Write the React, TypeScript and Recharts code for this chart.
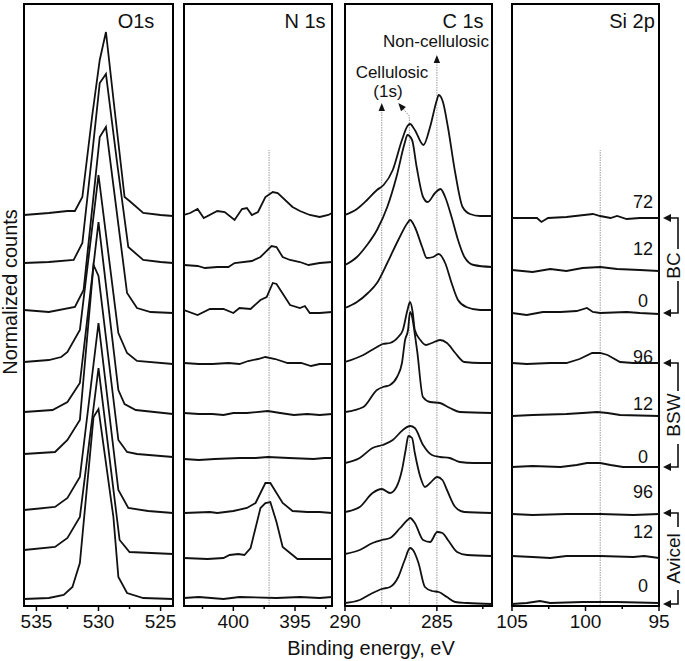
import React from 'react';
import { LineChart, Line, XAxis, YAxis, ReferenceLine, ReferenceArea } from 'recharts';

type Pt = [number, number];

// ---------- O1s (binding energy eV, normalized counts above baseline) ----------
const O1S_BC72: Pt[] = [[536,0],[534,2],[532.5,4],[531.9,4],[531.3,18],[530.5,100],[529.9,155],[529.4,183],[528.7,105],[527.9,18],[527.5,14],[526.4,2],[525,0],[524,-1]];
const O1S_BC12: Pt[] = [[536,0],[534,1],[532,3],[531.3,20],[530.5,110],[529.9,180],[529.4,189],[528.5,100],[527.6,16],[526.4,3],[525,1],[524,0]];
const O1S_BC0: Pt[] = [[536,0],[534,-2],[531.9,3],[531.2,20],[529.9,173],[529.4,183],[527.7,17],[526.9,2],[525.8,-2],[524,-3]];
const O1S_BSW96: Pt[] = [[536,0],[534,2],[533,5],[532.5,10],[531.5,32],[530,187],[528.4,29],[527.7,9],[526.9,1],[524,-2]];
const O1S_BSW12: Pt[] = [[536,0],[533.7,2],[532.5,10],[531.5,29],[530,190],[528.4,22],[527.9,8],[527,2],[524,-2]];
const O1S_BSW0: Pt[] = [[536,0],[533.5,2],[532.5,14],[531.5,34],[530.4,189],[530,178],[528.4,14],[527.7,2],[526.9,0],[524,-3]];
const O1S_AV96: Pt[] = [[536,0],[533.5,3],[532.5,12],[531.5,33],[530,187],[528.4,20],[527.6,2],[526,-1],[524,-3]];
const O1S_AV12: Pt[] = [[536,0],[533.5,3],[532.5,12],[531.5,33],[530,182],[528.3,10],[527.5,-2],[524,-4]];
const O1S_AV0: Pt[] = [[536,0],[534,1],[532.8,4],[532.1,12],[531.5,36],[530.4,182],[530,190],[528.8,82],[528.4,22],[527.7,6],[526.4,1],[524,0]];
const O1S_OFFSETS = [391, 343, 296, 244, 194, 152, 96, 56, 7];

// ---------- N 1s ----------
const N1S_BC72: Pt[] = [[404,0],[403.5,2],[402.9,6],[402.4,-3],[401.3,4],[400.7,3],[399.9,-5],[399.3,6],[398.9,7],[398.5,0],[398,3],[397.4,18],[396.8,23],[396.4,22],[395.2,8],[394.6,4],[393.8,0],[393,-2],[392.3,0],[392,2]];
const N1S_BC12: Pt[] = [[404,0],[402.9,-1],[402.3,-3],[401.3,-2],[400.4,-2],[399.9,2],[398.5,4],[397.8,8],[396.9,19],[396.5,18],[396,8],[395.4,5],[394.6,3],[393.9,0],[393,2],[392,3]];
const N1S_BC0: Pt[] = [[404,0],[402.9,-5],[401.9,1],[400.8,1],[400,-3],[399.5,2],[398.6,1],[397.8,10],[397.3,13],[396.8,27],[396.5,26],[395.4,5],[394.6,2],[394.2,4],[393.8,-3],[393,-3],[392,-2]];
const N1S_BSW96: Pt[] = [[404,0],[402.8,-1],[401.7,-1],[400.4,0],[399.5,-1],[398.8,2],[398,4],[397.4,6],[396.6,4],[395.6,0],[394.5,0],[393.7,-3],[393,-1],[392,-1]];
const N1S_BSW12: Pt[] = [[404,0],[402.8,-1],[401.7,-1],[400.8,-2],[400,0],[398.9,0],[397.2,2],[396.2,0],[395.1,-2],[394,-1],[393,-2],[392,-1]];
const N1S_BSW0: Pt[] = [[404,-1],[402.8,-2],[401.5,-1],[399.5,0],[398.2,0],[397.2,1],[395.5,0],[393.5,-1],[392.6,0],[392,0]];
const N1S_AV96: Pt[] = [[404,-1],[401.9,0],[401.3,-1],[400,1],[398.9,4],[398.2,9],[397.4,29],[397,29],[396,9],[395.2,1],[394,0],[393,0],[392,-1]];
const N1S_AV12: Pt[] = [[404,0],[402.1,-1],[400.8,0],[400.3,3],[399.6,4],[399.1,3],[398.6,10],[397.8,50],[397.4,55],[397,56],[396.5,36],[396,11],[394.8,-1],[393.5,-1],[392,-1]];
const N1S_AV0: Pt[] = [[404,0],[402.8,1],[400.8,-1],[399.5,1],[396.5,0],[394.6,1],[393,0],[392,1]];
const N1S_OFFSETS = [391, 341, 296, 243, 193, 148, 94, 48, 8];

// ---------- C 1s ----------
const C1S_BC72: Pt[] = [[290,0],[289.35,6],[288.8,15],[288.26,25],[287.9,30],[287.4,45],[286.9,75],[286.6,89],[286.46,91],[286.2,85],[285.73,70],[285.37,88],[285,115],[284.9,120],[284.67,113],[284.4,88],[284,42],[283.6,8],[283.2,1],[282.65,-1],[282,-1]];
const C1S_BC12: Pt[] = [[290,0],[289.35,8],[288.8,20],[288.26,35],[287.7,58],[287.2,88],[286.75,122],[286.6,130],[286.35,125],[286.1,98],[285.75,68],[285.5,63],[285.1,72],[284.8,76],[284.55,68],[284.2,48],[283.85,25],[283.5,8],[283,0],[282,-2]];
const C1S_BC0: Pt[] = [[290,0],[289.35,6],[288.75,15],[288.26,25],[287.7,45],[287.1,68],[286.6,85],[286.46,88],[286.2,81],[285.8,61],[285.55,50],[285.2,51],[284.9,54],[284.55,45],[284.2,25],[283.85,8],[283.4,1],[282.65,-2],[282,-2]];
const C1S_BSW96: Pt[] = [[290,0],[289,7],[288.26,15],[287.95,18],[287.55,19],[287.1,25],[286.85,32],[286.6,52],[286.46,60],[286.32,50],[286.2,32],[285.9,22],[285.6,17],[285.27,19],[284.83,22],[284.45,19],[284,9],[283.5,0],[282.65,-1],[282,-1]];
const C1S_BSW12: Pt[] = [[290,0],[289,5],[288.26,22],[287.93,25],[287.55,27],[287.17,35],[286.9,49],[286.73,72],[286.57,82],[286.46,100],[286.08,62],[285.76,15],[285.37,10],[284.83,9],[284.29,4],[283.75,0],[282,-1]];
const C1S_BSW0: Pt[] = [[290,0],[289.2,5],[288.5,15],[287.95,18],[287.4,23],[286.85,33],[286.46,37],[286.2,35],[285.75,18],[285.27,8],[284.83,6],[284.3,5],[283.75,1],[283,0],[282,0]];
const C1S_AV96: Pt[] = [[290,0],[289.2,5],[288.5,19],[288,23],[287.55,19],[287.2,25],[286.9,42],[286.7,62],[286.55,76],[286.35,74],[286.2,59],[285.9,35],[285.65,25],[285.37,29],[284.98,35],[284.7,32],[284.45,22],[284,5],[283.5,0],[282,-1]];
const C1S_AV12: Pt[] = [[290,0],[289.2,4],[288.5,11],[288,14],[287.55,16],[287,26],[286.6,34],[286.46,36],[286.2,31],[285.75,14],[285.37,12],[284.98,22],[284.7,21],[284.4,14],[283.9,2],[283.35,-1],[282,-2]];
const C1S_AV0: Pt[] = [[290,0],[289.2,3],[288.5,10],[288,14],[287.55,16],[287.1,26],[286.75,43],[286.46,55],[286.3,53],[286,40],[285.65,16],[285.27,12],[284.9,11],[284.45,6],[284,1],[283.35,0],[282,-1]];
const C1S_OFFSETS = [391, 341, 298, 244, 194, 143, 94, 52, 3];

// ---------- Si 2p ----------
const SI_BC72: Pt[] = [[105,0],[103.3,0],[103,-4],[102.55,0],[101.3,1],[99.5,4],[99,2],[98.3,0],[97.85,2],[97.2,-1],[96.3,0],[95,0]];
const SI_BC12: Pt[] = [[105,0],[103.6,-2],[102.4,1],[101.3,-1],[100.2,2],[99,3],[97.85,1],[96.3,0],[95,-1]];
const SI_BC0: Pt[] = [[105,0],[104,-2],[102.9,1],[101.7,1],[100.6,2],[99.9,5],[99.5,1],[99,0],[97.2,1],[96.3,0],[95,-1]];
const SI_BSW96: Pt[] = [[105,0],[104,-1],[102.4,0],[101.3,0],[100.4,4],[99.55,10],[99,10],[98.5,8],[97.65,1],[96.75,0],[95,0]];
const SI_BSW12: Pt[] = [[105,0],[103.6,1],[101.3,2],[100.2,3],[99.2,4],[98.5,3],[97.65,1],[95,0]];
const SI_BSW0: Pt[] = [[105,0],[103.6,1],[101.7,0],[100.6,2],[99.9,4],[99,4],[98.3,2],[97.45,0],[95,0]];
const SI_AV96: Pt[] = [[105,0],[103.6,-1],[101.3,0],[99,0],[96.75,-1],[95,0]];
const SI_AV12: Pt[] = [[105,0],[103.6,-1],[102.4,-2],[101.3,0],[99,0],[96.75,-1],[96,0],[95,-2]];
const SI_AV0: Pt[] = [[105,0],[104,1],[103.1,3],[102.4,1],[100.2,2],[97.9,2],[95,1]];
const SI_OFFSETS = [388, 336, 293, 243, 190, 139, 92, 50, 2];

// ---------- labels / ticks ----------
const TIME_LABELS = ['72', '12', '0', '96', '12', '0', '96', '12', '0'];
const GROUP_LABELS = ['BC', 'BSW', 'Avicel'];
const TICKS_O1S = [535, 532.5, 530, 527.5, 525];
const TICKS_N1S = [402.5, 400, 397.5, 395, 392.5];
const TICKS_C1S = [290, 287.5, 285, 282.5];
const TICKS_SI = [105, 102.5, 100, 97.5, 95];
const PANEL_TITLES = ['O1s', 'N 1s', 'C 1s', 'Si 2p'];
const N1S_REF = 397.1;
const SI_REF = 99;
const C1S_NONCELL = 285;
const C1S_CELL = [288, 286.5];

// ---------- layout ----------
const FONT = "'Liberation Sans', Arial, Helvetica, sans-serif";
const Y_MAX = 602;
const PAD = 20;
const TICK_SIZE = 5;
const TICK_MARGIN = 4;

const PANELS = [
  { left: 24, width: 149, domain: [524, 536], ticks: TICKS_O1S, spectra: [O1S_BC72, O1S_BC12, O1S_BC0, O1S_BSW96, O1S_BSW12, O1S_BSW0, O1S_AV96, O1S_AV12, O1S_AV0], offsets: O1S_OFFSETS, curve: 'linear', guide: null as number | null, titleX: 136 },
  { left: 184, width: 148, domain: [392, 404], ticks: TICKS_N1S, spectra: [N1S_BC72, N1S_BC12, N1S_BC0, N1S_BSW96, N1S_BSW12, N1S_BSW0, N1S_AV96, N1S_AV12, N1S_AV0], offsets: N1S_OFFSETS, curve: 'linear', guide: N1S_REF, titleX: 305 },
  { left: 345, width: 147, domain: [282, 290], ticks: TICKS_C1S, spectra: [C1S_BC72, C1S_BC12, C1S_BC0, C1S_BSW96, C1S_BSW12, C1S_BSW0, C1S_AV96, C1S_AV12, C1S_AV0], offsets: C1S_OFFSETS, curve: 'monotone', guide: null, titleX: 463 },
  { left: 512, width: 147, domain: [95, 105], ticks: TICKS_SI, spectra: [SI_BC72, SI_BC12, SI_BC0, SI_BSW96, SI_BSW12, SI_BSW0, SI_AV96, SI_AV12, SI_AV0], offsets: SI_OFFSETS, curve: 'linear', guide: SI_REF, titleX: 632 },
];

const TickMark = (props: any) => {
  const { x, y, payload } = props;
  const v = payload.value as number;
  const major = Math.abs(v % 5) < 1e-6;
  const axisY = y - TICK_SIZE - TICK_MARGIN;
  return (
    <g>
      <line x1={x} x2={x} y1={axisY} y2={axisY + (major ? 5 : 3)} stroke="#000" strokeWidth={1.5} />
      {major && (
        <text x={x} y={axisY + 22} textAnchor="middle" fontSize={19} fontFamily={FONT} fill="#111">
          {v}
        </text>
      )}
    </g>
  );
};

const guideLine = (props: any) => {
  const { x1, y1, x2, y2 } = props;
  return <line x1={x1} y1={y1} x2={x2} y2={y2} stroke="#9a9a9a" strokeWidth={1} strokeDasharray="1.5 1" />;
};

const arrowLine = (props: any) => {
  const { x1, y1, x2, y2 } = props;
  const dx = x2 - x1, dy = y2 - y1;
  const len = Math.hypot(dx, dy) || 1;
  const ux = dx / len, uy = dy / len;
  const L = 8, Wd = 3.2;
  const bx = x2 - ux * L, by = y2 - uy * L;
  const px = -uy * Wd, py = ux * Wd;
  return (
    <g>
      <line x1={x1} y1={y1} x2={bx} y2={by} stroke="#9a9a9a" strokeWidth={1} strokeDasharray="1.5 1" />
      <polygon points={`${x2},${y2} ${bx + px},${by + py} ${bx - px},${by - py}`} fill="#111" />
    </g>
  );
};

function Panel({ p }: { p: (typeof PANELS)[number] }) {
  const isC = p.curve === 'monotone';
  return (
    <div style={{ position: 'absolute', left: p.left - PAD, top: 0 }}>
      <LineChart width={p.width + 2 * PAD} height={661} margin={{ top: 4, right: PAD, bottom: 25, left: PAD }}>
        <XAxis
          dataKey="e"
          type="number"
          domain={p.domain as [number, number]}
          reversed
          allowDataOverflow
          ticks={p.ticks}
          interval={0}
          height={30}
          tickSize={TICK_SIZE}
          tickMargin={TICK_MARGIN}
          tickLine={false}
          axisLine={{ stroke: '#000', strokeWidth: 2 }}
          tick={<TickMark />}
        />
        <YAxis hide type="number" domain={[0, Y_MAX]} allowDataOverflow />
        {p.guide !== null && (
          <ReferenceLine segment={[{ x: p.guide, y: 0 }, { x: p.guide, y: 456 }]} shape={guideLine} ifOverflow="visible" />
        )}
        {isC && (
          <ReferenceLine segment={[{ x: C1S_NONCELL, y: 0 }, { x: C1S_NONCELL, y: 551 }]} shape={arrowLine} ifOverflow="visible" />
        )}
        {isC && (
          <ReferenceLine segment={[{ x: C1S_CELL[0], y: 0 }, { x: C1S_CELL[0], y: 503 }]} shape={arrowLine} ifOverflow="visible" />
        )}
        {isC && (
          <ReferenceLine segment={[{ x: C1S_CELL[1], y: 0 }, { x: C1S_CELL[1], y: 490 }]} shape={guideLine} ifOverflow="visible" />
        )}
        {isC && (
          <ReferenceLine segment={[{ x: C1S_CELL[1], y: 490 }, { x: 287.1, y: 503 }]} shape={arrowLine} ifOverflow="visible" />
        )}
        {p.spectra.map((s, i) => (
          <Line
            key={i}
            data={s.map(([e, h]) => ({ e, v: h + p.offsets[i] }))}
            dataKey="v"
            type={p.curve as any}
            stroke="#111"
            strokeWidth={1.8}
            dot={false}
            activeDot={false}
            isAnimationActive={false}
          />
        ))}
        <ReferenceArea
          x1={p.domain[0]}
          x2={p.domain[1]}
          y1={0}
          y2={Y_MAX}
          fill="none"
          stroke="#000"
          strokeWidth={2}
          ifOverflow="visible"
        />
      </LineChart>
    </div>
  );
}

const LABEL_BASELINES = [208, 255, 307, 363, 410, 463, 498, 538, 592];
const BRACKETS = [
  { top: 218, bottom: 313, tTop: 249, tBot: 281 },
  { top: 363, bottom: 467, tTop: 391, tBot: 444 },
  { top: 513, bottom: 604, tTop: 527, tBot: 590 },
];

function Overlay() {
  const lineX = 678;
  const tip = 663;
  return (
    <svg width={685} height={661} style={{ position: 'absolute', left: 0, top: 0, pointerEvents: 'none' }} fontFamily={FONT}>
      <text transform="translate(17,292) rotate(-90)" textAnchor="middle" fontSize={20} fill="#111">
        Normalized counts
      </text>
      {PANELS.map((p, i) => (
        <text key={i} x={p.titleX} y={28} textAnchor="middle" fontSize={20} fill="#111">
          {PANEL_TITLES[i]}
        </text>
      ))}
      <text x={436} y={47} textAnchor="middle" fontSize={17} fill="#111">Non-cellulosic</text>
      <text x={392} y={78} textAnchor="middle" fontSize={17} fill="#111">Cellulosic</text>
      <text x={388} y={97} textAnchor="middle" fontSize={17} fill="#111">(1s)</text>
      {TIME_LABELS.map((t, i) => (
        <text key={i} x={643} y={LABEL_BASELINES[i]} textAnchor="middle" fontSize={18} fill="#111">
          {t}
        </text>
      ))}
      {BRACKETS.map((b, i) => (
        <g key={i} stroke="#111" strokeWidth={1.6} fill="none">
          <path d={`M${lineX},${b.tTop} L${lineX},${b.top} L${tip + 6},${b.top}`} />
          <path d={`M${lineX},${b.tBot} L${lineX},${b.bottom} L${tip + 6},${b.bottom}`} />
          <polygon points={`${tip},${b.top} ${tip + 8},${b.top - 4} ${tip + 8},${b.top + 4}`} fill="#111" stroke="none" />
          <polygon points={`${tip},${b.bottom} ${tip + 8},${b.bottom - 4} ${tip + 8},${b.bottom + 4}`} fill="#111" stroke="none" />
          <text
            transform={`translate(${lineX + 2},${(b.top + b.bottom) / 2}) rotate(-90)`}
            textAnchor="middle"
            fontSize={19}
            fill="#111"
            stroke="none"
          >
            {GROUP_LABELS[i]}
          </text>
        </g>
      ))}
      <text x={371} y={655} textAnchor="middle" fontSize={20} fill="#111">
        Binding energy, eV
      </text>
    </svg>
  );
}

export default function App() {
  return (
    <div style={{ position: 'absolute', left: 0, top: 0, width: 685, height: 661, background: '#fff', overflow: 'hidden' }}>
      {PANELS.map((p, i) => (
        <Panel key={i} p={p} />
      ))}
      <Overlay />
    </div>
  );
}
